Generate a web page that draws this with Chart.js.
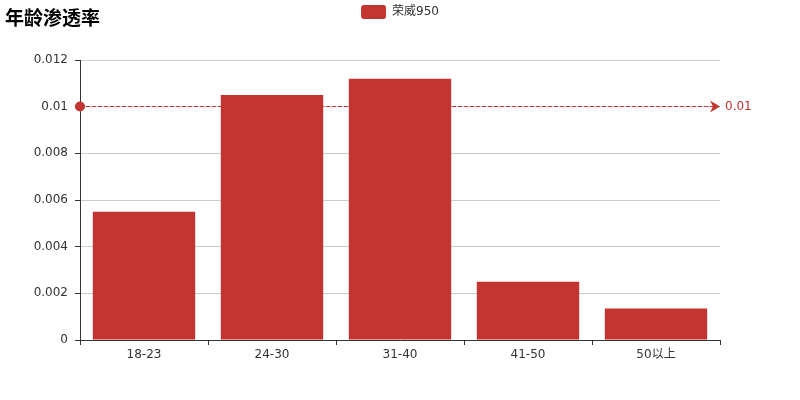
<!DOCTYPE html>
<html>
<head>
<meta charset="utf-8">
<script src="https://cdn.jsdelivr.net/npm/chart.js@4/dist/chart.umd.min.js"></script>
<style>
    html, body { margin: 0; padding: 0; background: #fff; }
    #wrap { position: relative; width: 800px; height: 400px; }
    #title {
        position: absolute; left: 5px; top: 3px;
        font: bold 19px "DejaVu Sans", "Noto Sans CJK SC", sans-serif;
        color: #000;
    }
</style>
</head>
<body>
<div id="wrap">
    <canvas id="chart" width="800" height="400"></canvas>
    <div id="title">年龄渗透率</div>
</div>
<script>
var ageGroups = ['18-23', '24-30', '31-40', '41-50', '50以上'];
var seriesName = '荣威950';
var penetration = [0.0055, 0.0105, 0.0112, 0.0025, 0.00135];
var markValue = 0.01;
var yTicks = [0, 0.002, 0.004, 0.006, 0.008, 0.01, 0.012];

var RED = '#c23531';
var FONT = '"DejaVu Sans", "Noto Sans CJK SC", sans-serif';

Chart.defaults.font.family = FONT;
Chart.defaults.font.size = 12;
Chart.defaults.color = '#333';

// dashed mark line at markValue, circle at start, arrow at end
var markLine = {
    id: 'markLine',
    afterDatasetsDraw: function (chart) {
        var ctx = chart.ctx;
        var area = chart.chartArea;
        var y = Math.floor(chart.scales.y.getPixelForValue(markValue)) + 0.5;
        ctx.save();
        ctx.strokeStyle = RED;
        ctx.fillStyle = RED;
        ctx.lineWidth = 1;
        ctx.setLineDash([4, 2]);
        ctx.beginPath();
        ctx.moveTo(area.left, y);
        ctx.lineTo(area.right - 5, y);
        ctx.stroke();
        ctx.setLineDash([]);
        ctx.beginPath();
        ctx.arc(area.left, y, 5, 0, Math.PI * 2);
        ctx.fill();
        ctx.beginPath();
        ctx.moveTo(area.right, y);
        ctx.lineTo(area.right - 10, y - 6);
        ctx.lineTo(area.right - 7, y);
        ctx.lineTo(area.right - 10, y + 6);
        ctx.closePath();
        ctx.fill();
        ctx.font = '12px ' + FONT;
        ctx.textAlign = 'left';
        ctx.textBaseline = 'middle';
        ctx.fillText(String(markValue), area.right + 5, y);
        ctx.restore();
    }
};

// fixed legend height and centre it on the whole canvas
var legendFit = {
    id: 'legendFit',
    afterInit: function (chart) {
        var lg = chart.legend;
        var origFit = lg.fit;
        var origDraw = lg.draw;
        lg.fit = function () {
            origFit.call(this);
            this.height = 60;
        };
        lg.draw = function () {
            var ctx = this.ctx;
            ctx.save();
            ctx.translate(40, 0);
            origDraw.apply(this, arguments);
            ctx.restore();
        };
    }
};

new Chart(document.getElementById('chart').getContext('2d'), {
    type: 'bar',
    data: {
        labels: ageGroups,
        datasets: [{
            label: seriesName,
            data: penetration,
            backgroundColor: RED,
            borderWidth: 0,
            barPercentage: 0.8,
            categoryPercentage: 1.0
        }]
    },
    options: {
        responsive: false,
        animation: false,
        layout: { padding: { left: 0, right: 80, top: 0, bottom: 0 } },
        plugins: {
            tooltip: { enabled: false },
            legend: {
                position: 'top',
                labels: {
                    boxWidth: 25,
                    boxHeight: 14,
                    useBorderRadius: true,
                    borderRadius: 3,
                    padding: 5,
                    color: '#333',
                    font: { size: 12 }
                }
            }
        },
        scales: {
            x: {
                grid: {
                    drawOnChartArea: false,
                    tickColor: '#333',
                    tickLength: 5,
                    offset: true
                },
                border: { color: '#333' },
                ticks: { padding: 3, color: '#333' },
                afterFit: function (s) { s.height = 60; }
            },
            y: {
                min: 0,
                max: 0.012,
                afterBuildTicks: function (s) {
                    s.ticks = yTicks.map(function (v) { return { value: v }; });
                },
                grid: {
                    color: '#ccc',
                    tickColor: '#333',
                    tickLength: 5
                },
                border: { color: '#333' },
                ticks: {
                    padding: 7,
                    color: '#333',
                    callback: function (v) { return String(+v.toFixed(4)); }
                },
                afterFit: function (s) { s.width = 80; }
            }
        }
    },
    plugins: [legendFit, markLine]
});
</script>
</body>
</html>
